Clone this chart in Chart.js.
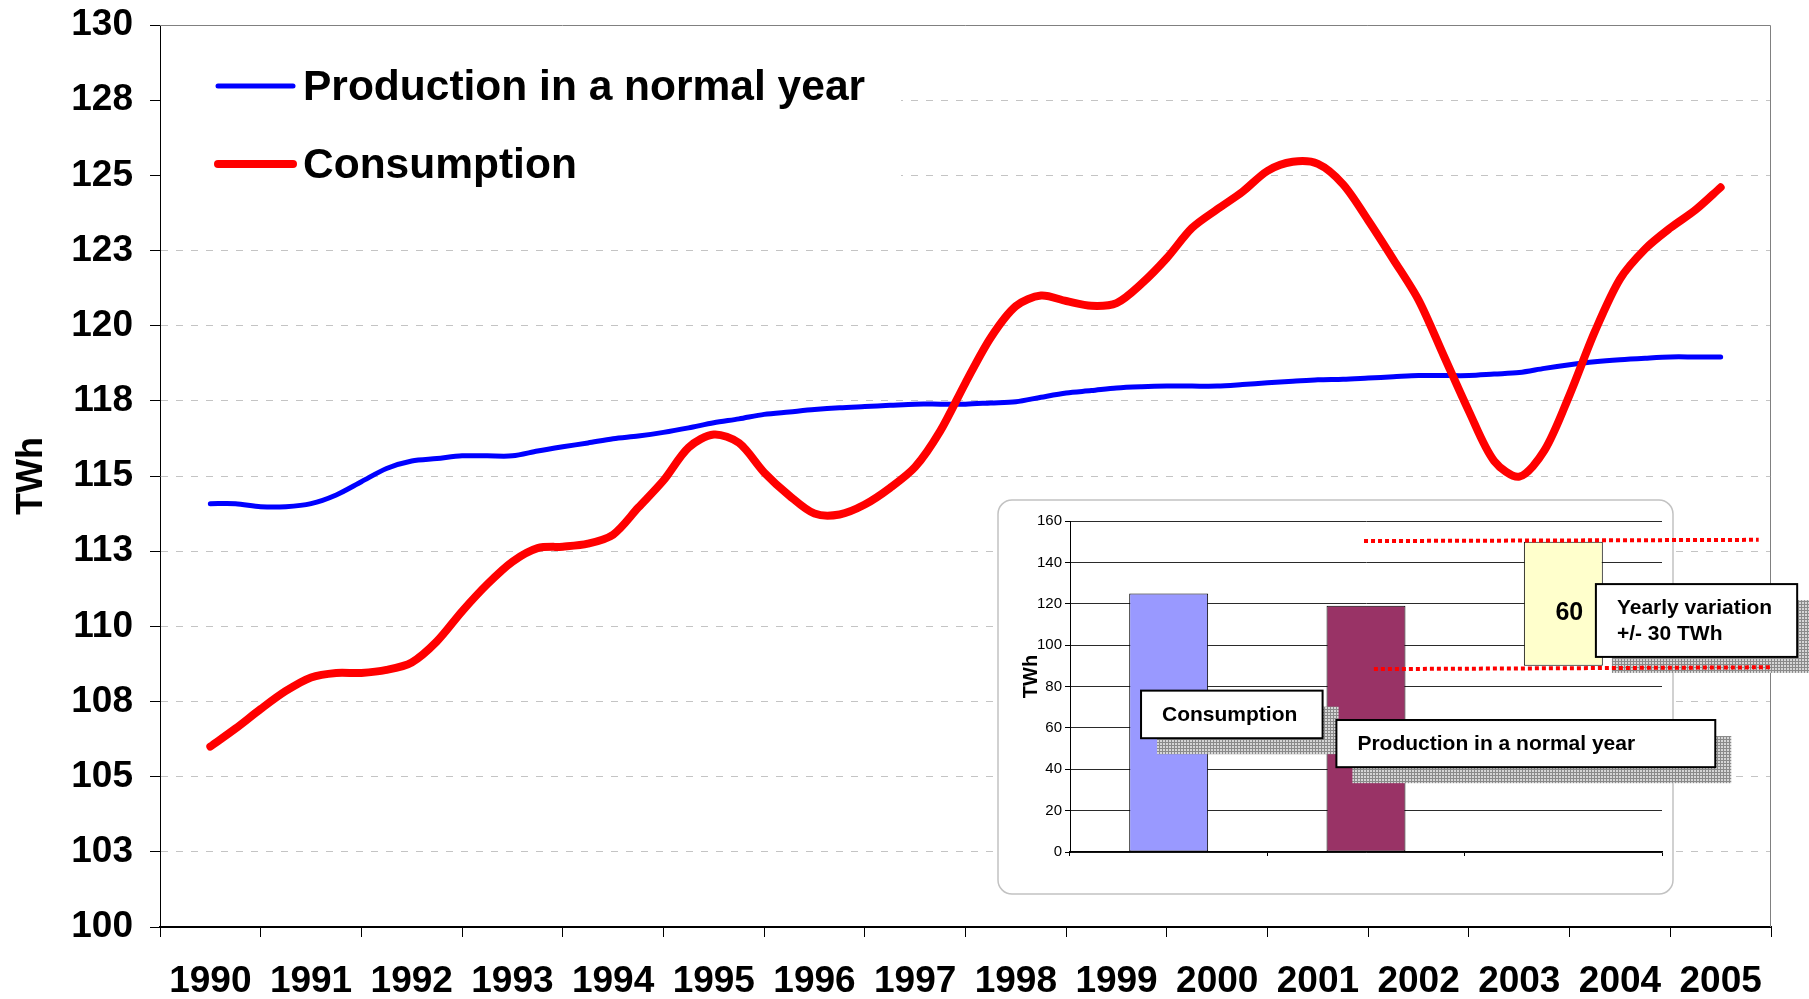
<!DOCTYPE html>
<html>
<head>
<meta charset="utf-8">
<title>Production and consumption</title>
<script src="https://cdn.jsdelivr.net/npm/chart.js@4.4.1/dist/chart.umd.min.js"></script>
<style>
    html, body { margin: 0; padding: 0; background: #fff; overflow: hidden; }
    #wrap { position: relative; width: 1809px; height: 999px; }
    #mainChart { position: absolute; left: 0; top: 0; }
    #insetChart { position: absolute; left: 997px; top: 499px; }
</style>
</head>
<body>
<div id="wrap">
    <canvas id="mainChart" width="1809" height="999"></canvas>
    <canvas id="insetChart" width="812" height="400"></canvas>
</div>
<script>
const FONT = "'Liberation Sans', Arial, sans-serif";

// main chart: one label per year, values read every quarter (1990.00 .. 2005.00)
const years = ["1990", "1991", "1992", "1993", "1994", "1995", "1996", "1997",
               "1998", "1999", "2000", "2001", "2002", "2003", "2004", "2005"];
const firstYear = 1990;

const production = [
    114.08, 114.08, 113.98, 113.98,
    114.08, 114.37, 114.81, 115.25,
    115.50, 115.58, 115.67, 115.67,
    115.67, 115.83, 115.97, 116.10,
    116.24, 116.33, 116.45, 116.60,
    116.77, 116.90, 117.05, 117.13,
    117.21, 117.27, 117.31, 117.35,
    117.39, 117.39, 117.39, 117.43,
    117.47, 117.62, 117.76, 117.84,
    117.93, 117.97, 117.99, 117.99,
    117.99, 118.04, 118.10, 118.15,
    118.20, 118.22, 118.26, 118.30,
    118.34, 118.34, 118.34, 118.39,
    118.44, 118.58, 118.70, 118.80,
    118.87, 118.92, 118.96, 118.96,
    118.96
];

const consumption = [
    106.00, 106.60, 107.25, 107.85,
    108.30, 108.45, 108.45, 108.55,
    108.80, 109.50, 110.50, 111.40,
    112.15, 112.60, 112.65, 112.75,
    113.05, 113.95, 114.85, 115.95,
    116.38, 116.10, 115.12, 114.35,
    113.75, 113.72, 114.05, 114.60,
    115.30, 116.50, 118.10, 119.60,
    120.65, 121.00, 120.82, 120.66,
    120.75, 121.40, 122.25, 123.25,
    123.87, 124.45, 125.15, 125.45,
    125.38, 124.70, 123.50, 122.20,
    120.85, 119.00, 117.15, 115.50,
    114.98, 115.85, 117.70, 119.80,
    121.55, 122.55, 123.25, 123.85,
    124.60
];

// inset bar chart
const insetCategories = ["Consumption", "Production in a normal year", "Yearly variation"];
const insetValues = [125, 119];
const variationRange = [90, 150];
const insetColors = ["#9999FF", "#993366", "#FFFFCC"];

const toPoints = arr => arr.map((v, i) => ({ x: firstYear + i / 4, y: v }));

// ---------- main chart ----------
const insideLegend = {
    id: "insideLegend",
    beforeDatasetsDraw(chart) {
        const { ctx, chartArea: a } = chart;
        ctx.save();
        // grey frame on top and right of the plot
        ctx.strokeStyle = "#808080";
        ctx.lineWidth = 1;
        ctx.beginPath();
        ctx.moveTo(a.left, a.top + 0.5);
        ctx.lineTo(a.right - 0.5, a.top + 0.5);
        ctx.lineTo(a.right - 0.5, a.bottom);
        ctx.stroke();

        // legend sits inside the plot on a white patch
        ctx.fillStyle = "#fff";
        ctx.fillRect(a.left + 1, a.top + 2, 740, 190);

        const entries = [chart.data.datasets[1], chart.data.datasets[0]];
        ctx.font = "bold 42.5px " + FONT;
        ctx.textBaseline = "middle";
        entries.forEach((ds, i) => {
            const y = a.top + 61 + i * 78;
            ctx.strokeStyle = ds.borderColor;
            ctx.lineWidth = ds.borderWidth;
            ctx.lineCap = "round";
            ctx.beginPath();
            ctx.moveTo(a.left + 58, y);
            ctx.lineTo(a.left + 133, y);
            ctx.stroke();
            ctx.fillStyle = "#000";
            ctx.fillText(ds.label, a.left + 143, y + 2);
        });
        ctx.restore();
    }
};

new Chart(document.getElementById("mainChart"), {
    type: "line",
    data: {
        labels: years,
        datasets: [
            {
                label: "Consumption",
                data: toPoints(consumption),
                xAxisID: "xq",
                borderColor: "#FF0000",
                borderWidth: 8,
                pointRadius: 0,
                tension: 0.3,
                borderCapStyle: "round",
                borderJoinStyle: "round",
                fill: false
            },
            {
                label: "Production in a normal year",
                data: toPoints(production),
                xAxisID: "xq",
                borderColor: "#0000FF",
                borderWidth: 5,
                pointRadius: 0,
                tension: 0.3,
                borderCapStyle: "round",
                borderJoinStyle: "round",
                fill: false
            }
        ]
    },
    options: {
        responsive: false,
        animation: false,
        devicePixelRatio: 1,
        layout: { padding: { top: 25, right: 38, left: 0, bottom: 0 } },
        plugins: {
            legend: { display: false },
            tooltip: { enabled: false }
        },
        scales: {
            x: {
                type: "category",
                offset: true,
                grid: {
                    offset: true,
                    drawOnChartArea: false,
                    tickLength: 10,
                    tickColor: "#000",
                    tickWidth: 1
                },
                border: { color: "#000", width: 2 },
                ticks: {
                    color: "#000",
                    font: { family: FONT, size: 37, weight: "bold" },
                    padding: 23,
                    maxRotation: 0,
                    autoSkip: false
                },
                afterFit: s => {
                    s.height = 72;
                    s.paddingLeft = 0;
                    s.paddingRight = 0;
                }
            },
            xq: {
                type: "linear",
                position: "bottom",
                display: false,
                min: firstYear - 0.5,
                max: firstYear + years.length - 0.5
            },
            y: {
                min: 100,
                max: 130,
                ticks: {
                    stepSize: 2.5,
                    color: "#000",
                    font: { family: FONT, size: 37, weight: "bold" },
                    padding: 17,
                    callback: value => Math.round(value)
                },
                grid: {
                    color: c => (c.tick.value === 100 || c.tick.value === 130) ? "rgba(0,0,0,0)" : "#c4c4c4",
                    lineWidth: 1,
                    tickLength: 10,
                    tickColor: "#000"
                },
                border: { color: "#000", width: 1, dash: [7, 8] },
                title: {
                    display: true,
                    text: "TWh",
                    color: "#000",
                    font: { family: FONT, size: 36, weight: "bold" },
                    padding: { top: 10, bottom: 0 }
                },
                afterFit: s => {
                    s.width = 160;
                    s.paddingTop = 0;
                    s.paddingBottom = 0;
                }
            }
        }
    },
    plugins: [insideLegend]
});

// ---------- inset chart ----------
const callouts = [
    { lines: [insetCategories[0]], x0: -0.14, x1: 0.78, y0: 78, y1: 55 },
    { lines: [insetCategories[1]], x0: 0.85, x1: 2.77, y0: 63.8, y1: 41 },
    { lines: [insetCategories[2], "+/- " + (variationRange[1] - variationRange[0]) / 2 + " TWh"],
      x0: 2.165, x1: 3.185, y0: 129.5, y1: 94.3 }
];
const rangeLines = [
    { x0: 0.99, x1: 2.99, y0: 150.3, y1: 150.9 },
    { x0: 1.04, x1: 3.05, y0: 88.4, y1: 89.3 }
];

function makeHatch() {
    const c = document.createElement("canvas");
    c.width = 3;
    c.height = 3;
    const g = c.getContext("2d");
    g.fillStyle = "#d6d6d6";
    g.fillRect(0, 0, 3, 3);
    g.fillStyle = "#8a8a8a";
    g.fillRect(0, 0, 3, 1);
    g.fillRect(0, 0, 1, 3);
    return c;
}

const insetPanel = {
    id: "insetPanel",
    beforeDraw(chart) {
        const { ctx, chartArea: a } = chart;
        ctx.save();
        ctx.beginPath();
        ctx.roundRect(a.left - 72, a.top - 21, (a.right + 11) - (a.left - 72), (a.bottom + 42) - (a.top - 21), 14);
        ctx.fillStyle = "#fff";
        ctx.fill();
        ctx.strokeStyle = "#c2c2c2";
        ctx.lineWidth = 1.5;
        ctx.stroke();
        ctx.restore();
    },
    afterDraw(chart) {
        // axis title of the inset sits a little above the middle
        const { ctx, chartArea: a } = chart;
        ctx.save();
        ctx.translate(a.left - 39, (a.top + a.bottom) / 2 - 10);
        ctx.rotate(-Math.PI / 2);
        ctx.font = "bold 20px " + FONT;
        ctx.fillStyle = "#000";
        ctx.textAlign = "center";
        ctx.textBaseline = "middle";
        ctx.fillText("TWh", 0, 0);
        ctx.restore();
    }
};

const insetNotes = {
    id: "insetNotes",
    afterDatasetsDraw(chart) {
        const { ctx } = chart;
        const xs = chart.scales.x, ys = chart.scales.y;
        const step = xs.getPixelForValue(1) - xs.getPixelForValue(0);
        const px = v => xs.getPixelForValue(0) + v * step;
        ctx.save();

        // value of the variation bar
        const bar = chart.getDatasetMeta(0).data[2];
        ctx.fillStyle = "#000";
        ctx.font = "bold 25px " + FONT;
        ctx.textAlign = "center";
        ctx.textBaseline = "middle";
        ctx.fillText(String(variationRange[1] - variationRange[0]), bar.x + 6, (bar.y + bar.base) / 2 + 9);

        // callout shadows, then boxes
        const hatch = ctx.createPattern(makeHatch(), "repeat");
        callouts.forEach(c => {
            const l = px(c.x0), r = px(c.x1), t = ys.getPixelForValue(c.y0), b = ys.getPixelForValue(c.y1);
            ctx.fillStyle = hatch;
            ctx.fillRect(l + 16, t + 16, r - l, b - t);
        });
        ctx.textAlign = "left";
        ctx.font = "bold 21px " + FONT;
        callouts.forEach(c => {
            const l = px(c.x0), r = px(c.x1), t = ys.getPixelForValue(c.y0), b = ys.getPixelForValue(c.y1);
            ctx.fillStyle = "#fff";
            ctx.fillRect(l, t, r - l, b - t);
            ctx.strokeStyle = "#000";
            ctx.lineWidth = 2;
            ctx.strokeRect(l, t, r - l, b - t);
            ctx.fillStyle = "#000";
            const mid = (t + b) / 2;
            const lh = 26;
            c.lines.forEach((txt, i) => {
                ctx.fillText(txt, l + 21, mid + (i - (c.lines.length - 1) / 2) * lh + 1);
            });
        });

        // dotted red limits of the variation
        ctx.strokeStyle = "#FF0000";
        ctx.lineWidth = 4;
        ctx.setLineDash([4, 3]);
        rangeLines.forEach(d => {
            ctx.beginPath();
            ctx.moveTo(px(d.x0), ys.getPixelForValue(d.y0));
            ctx.lineTo(px(d.x1), ys.getPixelForValue(d.y1));
            ctx.stroke();
        });
        ctx.restore();
    }
};

new Chart(document.getElementById("insetChart"), {
    type: "bar",
    data: {
        labels: insetCategories,
        datasets: [{
            data: [insetValues[0], insetValues[1], variationRange],
            backgroundColor: insetColors,
            borderColor: "#000",
            borderWidth: 1,
            borderSkipped: false,
            barPercentage: 0.4,
            categoryPercentage: 1
        }]
    },
    options: {
        responsive: false,
        animation: false,
        devicePixelRatio: 1,
        layout: { padding: { top: 22, right: 147, left: 0, bottom: 0 } },
        plugins: {
            legend: { display: false },
            tooltip: { enabled: false }
        },
        scales: {
            x: {
                ticks: { display: false },
                grid: {
                    offset: true,
                    drawOnChartArea: false,
                    tickLength: 4,
                    tickColor: "#000"
                },
                border: { color: "#000", width: 1.5 },
                afterFit: s => { s.height = 47; }
            },
            y: {
                min: 0,
                max: 160,
                ticks: {
                    stepSize: 20,
                    color: "#000",
                    font: { family: FONT, size: 15 },
                    padding: 3
                },
                grid: {
                    color: "#2a2a2a",
                    lineWidth: 1,
                    tickLength: 5,
                    tickColor: "#000"
                },
                border: { color: "#000", width: 1 },
                afterFit: s => {
                    s.width = 73;
                    s.paddingTop = 0;
                    s.paddingBottom = 0;
                }
            }
        }
    },
    plugins: [insetPanel, insetNotes]
});
</script>
</body>
</html>
